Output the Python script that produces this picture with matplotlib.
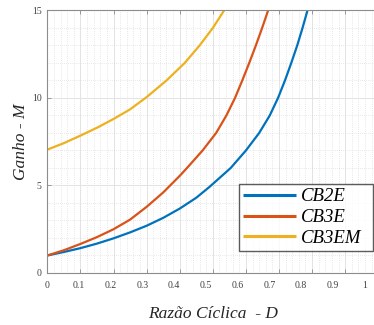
import matplotlib
matplotlib.use('Agg')
from matplotlib import pyplot as plt
from matplotlib import transforms
from matplotlib.ticker import MultipleLocator

# Gain versus duty cycle for the three converters
duty_cb2e = [0.0, 0.05, 0.1, 0.15, 0.2, 0.25, 0.3, 0.35, 0.4, 0.45, 0.49, 0.554,
             0.6, 0.64, 0.672, 0.697, 0.718, 0.737, 0.755, 0.771, 0.786]
gain_cb2e = [1.0, 1.2, 1.42, 1.68, 1.98, 2.32, 2.7, 3.15, 3.68, 4.3, 4.92, 6.0,
             7.0, 8.0, 9.0, 10.0, 11.0, 12.0, 13.0, 14.0, 15.0]

duty_cb3e = [0.0, 0.05, 0.1, 0.15, 0.2, 0.25, 0.3, 0.35, 0.4, 0.422, 0.469,
             0.51, 0.541, 0.567, 0.589, 0.61, 0.63, 0.649, 0.667]
gain_cb3e = [1.0, 1.3, 1.66, 2.05, 2.5, 3.05, 3.78, 4.6, 5.55, 6.0, 7.0,
             8.0, 9.0, 10.0, 11.0, 12.0, 13.0, 14.0, 15.0]

duty_cb3em = [0.0, 0.05, 0.1, 0.15, 0.2, 0.25, 0.3, 0.36, 0.415, 0.46, 0.5, 0.534]
gain_cb3em = [7.05, 7.42, 7.85, 8.3, 8.8, 9.35, 10.05, 11.0, 12.0, 13.0, 14.0, 15.0]

series_names = ['CB2E', 'CB3E', 'CB3EM']
x_ticks = [0, 0.1, 0.2, 0.3, 0.4, 0.5, 0.6, 0.7, 0.8, 0.9, 1]
x_tick_labels = ['0', '0.1', '0.2', '0.3', '0.4', '0.5', '0.6', '0.7', '0.8', '0.9', '1']
y_ticks = [0, 5, 10, 15]

colors = ['#0072BD', '#D95319', '#EDB120']
serif = 'Liberation Serif'
axis_gray = '#8c8c8c'
label_gray = '#404040'

fig = plt.figure(figsize=(3.74, 3.25), dpi=100)
ax = fig.add_axes([0.1265, 0.16, 0.885, 0.8077])

curves = [(duty_cb2e, gain_cb2e), (duty_cb3e, gain_cb3e), (duty_cb3em, gain_cb3em)]
for (d, m), name, c in zip(curves, series_names, colors):
    ax.plot(d, m, color=c, lw=1.6, label=name, solid_capstyle='butt')

ax.set_xlim(0, 1)
ax.set_ylim(0, 15)
ax.set_xticks(x_ticks)
ax.set_xticklabels([])
ax.set_yticks(y_ticks)
ax.xaxis.set_minor_locator(MultipleLocator(0.02))
ax.yaxis.set_minor_locator(MultipleLocator(1))

ax.grid(True, which='major', color='#e3e3e3', lw=0.7, ls='-')
ax.grid(True, which='minor', color='#d2d2d2', lw=0.5, ls=(0, (1, 2)))
ax.set_axisbelow(True)

ax.tick_params(which='both', direction='in', top=True, right=True,
               color=axis_gray, width=0.6)
ax.tick_params(which='major', length=3)
ax.tick_params(which='minor', length=0)
ax.tick_params(axis='y', labelsize=7, labelcolor=label_gray, pad=4)
for lbl in ax.get_yticklabels():
    lbl.set_family(serif)
for sp in ax.spines.values():
    sp.set_color(axis_gray)
    sp.set_linewidth(0.8)

# x tick labels sit slightly inward of their ticks
label_squeeze = 0.958
below = transforms.offset_copy(ax.get_xaxis_transform(), fig=fig, x=0, y=-6, units='points')
for v, s in zip(x_ticks, x_tick_labels):
    ax.text(v * label_squeeze, 0, s, transform=below, ha='center', va='top',
            fontsize=7, family=serif, color=label_gray)

ax.set_xlabel('Razão Cíclica  - D', family=serif, style='italic', fontsize=12.5,
              color='#262626', labelpad=20)
ax.set_ylabel('Ganho - M', family=serif, style='italic', fontsize=12.5,
              color='#262626', labelpad=2)

leg = ax.legend(loc='upper left', bbox_to_anchor=(0.579, 0.069, 0.405, 0.27),
                mode='expand', borderaxespad=0, frameon=True, fancybox=False,
                prop={'family': serif, 'style': 'italic', 'size': 13.5},
                handlelength=2.8, handletextpad=0.27, labelspacing=0.2,
                borderpad=0.22)
leg.get_frame().set_edgecolor('#333333')
leg.get_frame().set_linewidth(1.0)
for ln in leg.get_lines():
    ln.set_linewidth(2.2)

fig.savefig('out.png', dpi=100)
